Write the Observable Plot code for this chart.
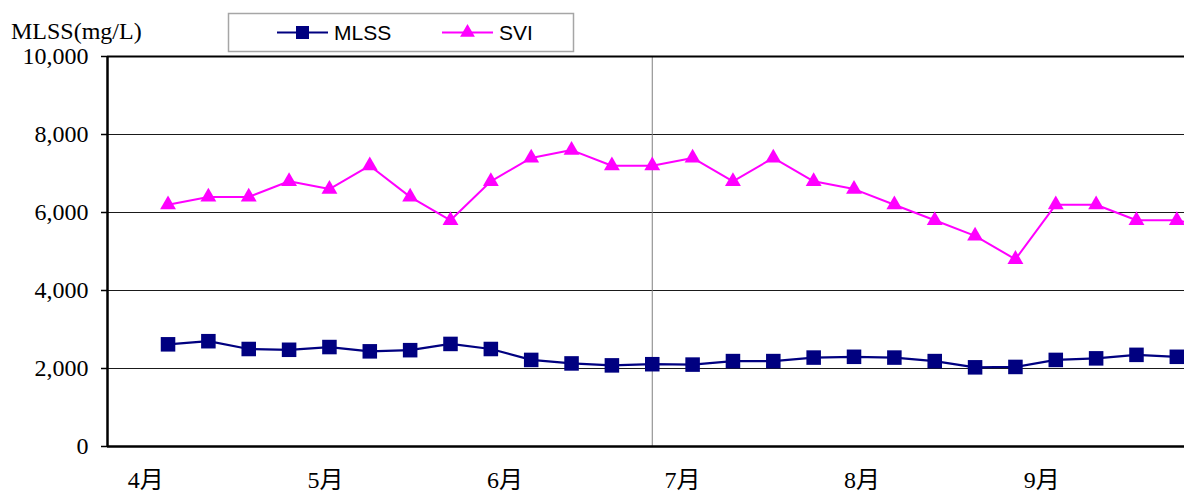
<!DOCTYPE html>
<html>
<head>
<meta charset="utf-8">
<script src="https://cdn.jsdelivr.net/npm/d3@7"></script>
<script src="https://cdn.jsdelivr.net/npm/@observablehq/plot@0.6"></script>
<style>
  html, body { margin: 0; padding: 0; background: #fff; overflow: hidden; }
</style>
</head>
<body>
<div id="chart"></div>
<script>
// Weekly sampling, April to September
const mlss = [2620, 2700, 2500, 2480, 2550, 2440, 2470, 2630, 2500, 2220, 2130, 2080, 2110,
              2100, 2190, 2190, 2280, 2300, 2280, 2190, 2030, 2040, 2220, 2260, 2350, 2300, 2300];
const svi  = [6200, 6400, 6400, 6800, 6600, 7200, 6400, 5800, 6800, 7400, 7600, 7200, 7200,
              7400, 6800, 7400, 6800, 6600, 6200, 5800, 5400, 4800, 6200, 6200, 5800, 5800, 5600];

// Month labels and where each month begins on the week axis
const monthLabels = ["4月", "5月", "6月", "7月", "8月", "9月"];
const monthTicks = [-0.55, 3.9, 8.35, 12.75, 17.2, 21.65];

const yTicks = [0, 2000, 4000, 6000, 8000, 10000];
const yTitle = "MLSS(mg/L)";
const markerWeek = 12;

const seriesNames = ["MLSS", "SVI"];
const seriesColors = ["#000080", "#ff00ff"];

const weeks = mlss.map((_, i) => i);
const rows = weeks.map(i => ({week: i, mlss: mlss[i], svi: svi[i]}));

const serif = "'Liberation Serif', 'Noto Sans CJK JP', serif";
const sans = "'Liberation Sans', Arial, sans-serif";
const xDomain = [-1.5, 25.19];

const chart = Plot.plot({
  width: 1184,
  height: 492,
  marginLeft: 107,
  marginRight: 0,
  marginTop: 56,
  marginBottom: 46,
  style: {fontFamily: serif, fontSize: "24px", color: "#000", background: "#fff", overflow: "hidden"},
  x: {domain: xDomain},
  y: {domain: [0, 10000]},
  marks: [
    Plot.ruleY(yTicks.slice(1, -1), {stroke: "#1a1a1a", strokeWidth: 1}),
    Plot.ruleX([markerWeek], {y1: 0, y2: 10000, stroke: "#808080", strokeWidth: 1}),
    Plot.ruleY([10000], {stroke: "#000", strokeWidth: 2}),
    Plot.line(rows, {x: "week", y: "mlss", stroke: seriesColors[0], strokeWidth: 2.2, clip: true}),
    Plot.dot(rows, {x: "week", y: "mlss", symbol: "square", r: 8.2, fill: seriesColors[0], stroke: "none", clip: true}),
    Plot.line(rows, {x: "week", y: "svi", stroke: seriesColors[1], strokeWidth: 2, clip: true}),
    Plot.dot(rows, {x: "week", y: "svi", symbol: "triangle", r: 5.9, fill: seriesColors[1], stroke: "none", clip: true}),
    Plot.axisY(yTicks, {tickSize: 6, tickPadding: 13, tickFormat: d3.format(","), label: null,
                        fontSize: 24, strokeWidth: 1.5}),
    Plot.axisX(monthTicks, {tickSize: 0, tickPadding: 24, label: null, fontSize: 24,
                            tickFormat: d => monthLabels[monthTicks.indexOf(d)]}),
    Plot.ruleX([xDomain[0]], {y1: 0, y2: 10000, stroke: "#000", strokeWidth: 2.5}),
    Plot.ruleY([0], {stroke: "#000", strokeWidth: 2.5})
  ]
});

const svg = d3.select(chart);

// Axis title
svg.append("text")
  .attr("x", 11).attr("y", 39)
  .attr("text-anchor", "start")
  .attr("font-family", serif).attr("font-size", 24).attr("fill", "#000")
  .text(yTitle);

// Legend box
const lg = svg.append("g").attr("text-anchor", "start");
lg.append("rect")
  .attr("x", 228.5).attr("y", 13.5).attr("width", 345).attr("height", 38)
  .attr("fill", "#fff").attr("stroke", "#a6a6a6").attr("stroke-width", 1.5);

const legendItems = [
  {name: seriesNames[0], color: seriesColors[0], symbol: d3.symbolSquare, size: 169, x: 277},
  {name: seriesNames[1], color: seriesColors[1], symbol: d3.symbolTriangle, size: 95, x: 442}
];
const ly = 32.5;
legendItems.forEach(it => {
  lg.append("line")
    .attr("x1", it.x).attr("x2", it.x + 51).attr("y1", ly).attr("y2", ly)
    .attr("stroke", it.color).attr("stroke-width", 2);
  lg.append("path")
    .attr("transform", `translate(${it.x + 25.5},${ly})`)
    .attr("d", d3.symbol(it.symbol, it.size)())
    .attr("fill", it.color);
  lg.append("text")
    .attr("x", it.x + 57).attr("y", 39.5)
    .attr("font-family", sans).attr("font-size", 21).attr("fill", "#000")
    .text(it.name);
});

document.getElementById("chart").append(chart);
</script>
</body>
</html>
